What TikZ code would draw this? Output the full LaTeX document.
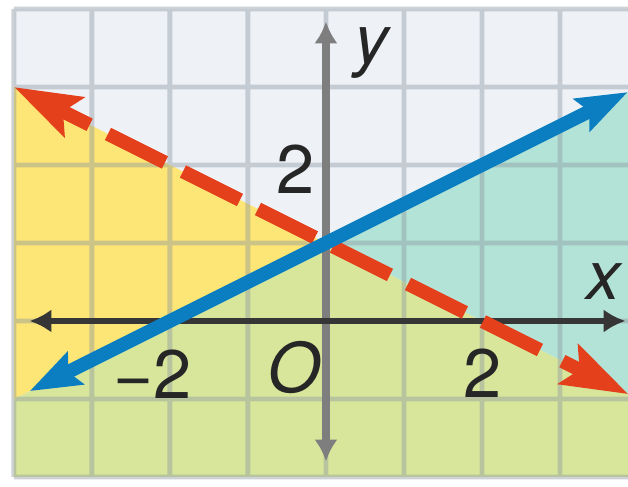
\documentclass[tikz,border=0pt]{standalone}
\usepackage{fontspec}
\setmainfont{TeX Gyre Heros}
\usetikzlibrary{arrows.meta}
\definecolor{topc}{HTML}{EEF2F7}
\definecolor{yelc}{HTML}{FDE576}
\definecolor{tealc}{HTML}{B3E3D6}
\definecolor{grnc}{HTML}{D8E69B}
\definecolor{gridc}{HTML}{8A96A0}
\definecolor{redl}{HTML}{E4401C}
\definecolor{bluel}{HTML}{0A7EC0}
\definecolor{axisx}{HTML}{363636}
\definecolor{axisy}{HTML}{7E7E7E}
\tikzset{
  lab/.style={font=\fontsize{25}{25}\selectfont, text=black!85, inner sep=0pt, anchor=base},
  gridline/.style={gridc, line width=1.8pt},
  redline/.style={redl, line width=5pt},
  blueline/.style={bluel, line width=5pt},
  axtip/.tip={Latex[length=0.28cm,width=0.3cm]},
  redtip/.tip={Stealth[length=0.85cm,width=0.55cm,inset=0.15cm]},
  bluetip/.tip={Stealth[length=0.65cm,width=0.45cm,inset=0.1cm]}
}
\begin{document}
\begin{tikzpicture}[x=1cm,y=1cm]
\useasboundingbox (-4.179,-2.128) rectangle (3.872,4.115);
\clip (-4.179,-2.128) rectangle (3.872,4.115);
\fill[white] (-4.179,-2.128) rectangle (3.872,4.115);
% regions
\coordinate (P) at (0,1);
\fill[topc] (-4,4) -- (3.872,4) -- (3.872,2.936) -- (P) -- (-4,3) -- cycle;
\fill[yelc] (-4,3) -- (P) -- (-4,-1) -- cycle;
\fill[tealc] (3.872,2.936) -- (3.872,-0.936) -- (P) -- cycle;
\fill[grnc] (-4,-1) -- (P) -- (3.872,-0.936) -- (3.872,-2) -- (-4,-2) -- cycle;
% grid
\begin{scope}[transparency group, opacity=0.42]
  \draw[gridline] (-4,-2) grid (3.95,4);
\end{scope}
% axes
\coordinate (xl) at (-3.8,0);
\coordinate (xr) at (3.84,0);
\coordinate (yb) at (0,-1.8);
\coordinate (yt) at (0,3.84);
\draw[axisy, line width=2.6pt, {axtip}-{axtip}] (yb) -- (yt);
\draw[axisx, line width=2pt, {axtip}-{axtip}] (xl) -- (xr);
% red dashed line y = 1 - x/2
\coordinate (R1) at (-4.0,3.0);
\coordinate (Rb1) at (-3.03,2.515);
\coordinate (D1) at (-2.795,2.3975);
\coordinate (D2) at (2.756,-0.378);
\coordinate (Rb2) at (3.03,-0.515);
\coordinate (R2) at (3.88,-0.94);
\draw[redline, dash pattern=on 0.817cm off 0.258cm] (D1) -- (D2);
\draw[redline, -{redtip}] (Rb1) -- (R1);
\draw[redline, -{redtip}] (Rb2) -- (R2);
% blue solid line y = 1 + x/2
\coordinate (BL) at (-3.8,-0.9);
\coordinate (BR) at (3.87,2.935);
\draw[blueline, {bluetip}-{bluetip}] (BL) -- (BR);
% labels
\node[lab] (ly) at (0.6,3.30) {\textit{y}};
\node[lab] (lx) at (3.57,0.27) {\textit{x}};
\node[lab] (l2y) at (-0.39,1.64) {2};
\node[lab] (lm2) at (-2.22,-0.99) {−2};
\node[lab] (lO) at (-0.41,-0.92) {\textit{O}};
\node[lab] (l2x) at (2.01,-0.98) {2};
\end{tikzpicture}
\end{document}
